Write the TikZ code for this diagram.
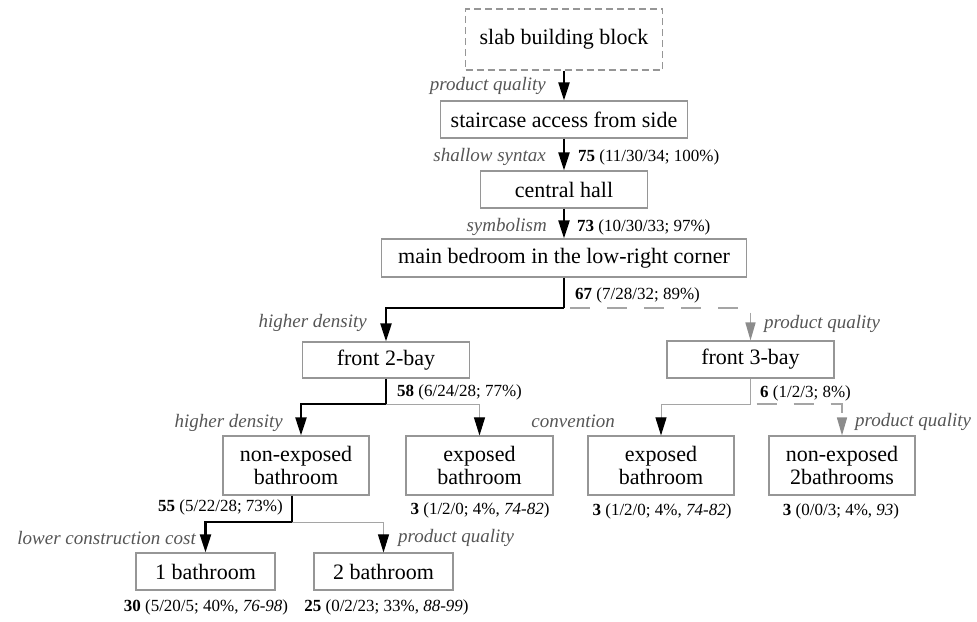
\documentclass[tikz,border=0pt]{standalone}
\usepackage{fontspec}
\setmainfont{Liberation Serif}
\usetikzlibrary{arrows.meta,calc}
\definecolor{boxgray}{RGB}{150,150,150}
\definecolor{linegray}{RGB}{165,165,165}
\definecolor{labgray}{RGB}{85,85,85}
\definecolor{tipgray}{RGB}{140,140,140}
\tikzset{
  box/.style={draw=boxgray, line width=1.1pt, inner sep=0pt, align=center,
    font=\fontsize{22}{23}\selectfont},
  lab/.style={font=\fontsize{19}{20}\selectfont\itshape, text=labgray, inner sep=0pt},
  stat/.style={font=\fontsize{17}{18}\selectfont, inner sep=0pt},
  mainline/.style={line width=2.2pt, -{Triangle[length=18pt,width=11pt]}},
  plainmain/.style={line width=2.2pt},
  sideline/.style={draw=linegray, line width=1pt, -{Triangle[length=18pt,width=11pt,color=black]}},
  plainside/.style={draw=linegray, line width=1pt},
  altline/.style={draw=linegray, line width=1.5pt, dash pattern=on 20pt off 17pt, dash phase=31pt,
    -{Triangle[length=18pt,width=10pt,color=tipgray]}},
}
\begin{document}
\begin{tikzpicture}[x=1pt,y=-1pt]
\useasboundingbox (0,0) rectangle (977,621);

% boxes
\node[box, dash pattern=on 7pt off 4pt, minimum width=197pt, minimum height=61pt] (slab) at (564,39.5) {slab building block};
\node[box, minimum width=247pt, minimum height=37pt] (stair) at (564,119.5) {staircase access from side};
\node[box, minimum width=167pt, minimum height=37pt] (hall) at (564,189.5) {central hall};
\node[box, minimum width=365pt, minimum height=38pt] (mb) at (564,258) {main bedroom in the low-right corner};
\node[box, minimum width=167pt, minimum height=36pt] (f2) at (386,360) {front 2-bay};
\node[box, minimum width=167pt, minimum height=37pt] (f3) at (750.5,359.5) {front 3-bay};
\node[box, minimum width=146pt, minimum height=59pt] (ne) at (296,465.5) {non-exposed\\bathroom};
\node[box, minimum width=147pt, minimum height=59pt] (eb1) at (479.5,465.5) {exposed\\bathroom};
\node[box, minimum width=146pt, minimum height=59pt] (eb2) at (661,465.5) {exposed\\bathroom};
\node[box, minimum width=146pt, minimum height=59pt] (ne2) at (842,465.5) {non-exposed\\2bathrooms};
\node[box, minimum width=139pt, minimum height=37pt] (b1) at (205.5,571.5) {1 bathroom};
\node[box, minimum width=139pt, minimum height=37pt] (b2) at (383.5,571.5) {2 bathroom};

% junctions
\coordinate (j1) at (564,308);
\coordinate (j2) at (386,404);
\coordinate (j3) at (750.5,404);
\coordinate (j4) at (292,522);

% connectors
\draw[mainline] (slab.south) -- (stair.north);
\draw[mainline] (stair.south) -- (hall.north);
\draw[mainline] (hall.south) -- (mb.north);
\draw[altline] (j1) -| (f3.north);
\draw[plainmain] (mb.south) -- (j1);
\draw[mainline] (j1) -| (f2.north);

\draw[plainmain] (f2.south) -- (j2);
\draw[sideline] (j2) -| (eb1.north);
\draw[mainline] (j2) -| ([xshift=5pt]ne.north);

\draw[plainside] (f3.south) -- (j3);
\draw[sideline] (j3) -| (eb2.north);
\draw[altline] (j3) -| (ne2.north);

\draw[plainmain] ([xshift=-4pt]ne.south) -- (j4);
\draw[sideline] (j4) -| (b2.north);
\draw[mainline] (j4) -| (b1.north);

% edge labels
\node[lab, anchor=east] (l1) at (546,86) {product quality};
\node[lab, anchor=east] (l2) at (546,157) {shallow syntax};
\node[lab, anchor=east] (l3) at (547,227) {symbolism};
\node[lab, anchor=east] (l4) at (367,323) {higher density};
\node[lab, anchor=west] (l5) at (764,324) {product quality};
\node[lab, anchor=east] (l6) at (283,423) {higher density};
\node[lab, anchor=east] (l7) at (615,421) {convention};
\node[lab, anchor=west] (l8) at (855,422) {product quality};
\node[lab, anchor=east] (l9) at (196,538) {lower construction cost};
\node[lab, anchor=west] (l10) at (398,538) {product quality};

% statistics
\node[stat, anchor=west] (s1) at (578,157) {\textbf{75} (11/30/34; 100\%)};
\node[stat, anchor=west] (s2) at (577,227) {\textbf{73} (10/30/33; 97\%)};
\node[stat, anchor=west] (s3) at (575,295) {\textbf{67} (7/28/32; 89\%)};
\node[stat, anchor=west] (s4) at (397,392) {\textbf{58} (6/24/28; 77\%)};
\node[stat, anchor=west] (s5) at (760,393) {\textbf{6} (1/2/3; 8\%)};
\node[stat, anchor=east] (s6) at (283,507) {\textbf{55} (5/22/28; 73\%)};
\node[stat] (s7) at (480,510) {\textbf{3} (1/2/0; 4\%, \textit{74-82})};
\node[stat] (s8) at (662,511) {\textbf{3} (1/2/0; 4\%, \textit{74-82})};
\node[stat] (s9) at (841,511) {\textbf{3} (0/0/3; 4\%, \textit{93})};
\node[stat] (s10) at (206,607) {\textbf{30} (5/20/5; 40\%, \textit{76-98})};
\node[stat] (s11) at (386.5,607) {\textbf{25} (0/2/23; 33\%, \textit{88-99})};
\end{tikzpicture}
\end{document}
